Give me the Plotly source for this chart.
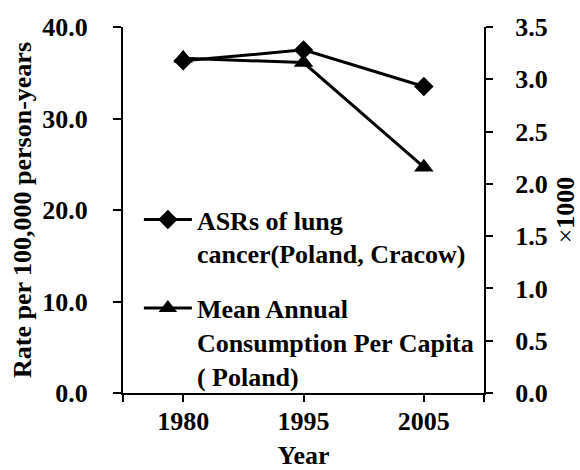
import plotly.graph_objects as go

# Observation years and series values
years = ["1980", "1995", "2005"]
asr_lung_cancer = [36.3, 37.5, 33.5]          # rate per 100,000 person-years (left axis)
consumption_per_capita = [3.2, 3.16, 2.16]   # x1000 (right axis)

asr_lines = ["ASRs of lung", "cancer(Poland, Cracow)"]
cons_lines = ["Mean Annual", "Consumption Per Capita", "( Poland)"]


def bold_lines(lines):
    return "<br>".join(f"<b>{s}</b>" for s in lines)


FONT = "Liberation Serif"
SIZE = 26
bold = dict(family=FONT, size=SIZE, color="black", weight="bold")
x_pos = list(range(len(years)))

fig = go.Figure()
fig.add_trace(go.Scatter(
    x=x_pos, y=asr_lung_cancer, name=bold_lines(asr_lines), legendgroup="a",
    mode="lines+markers",
    line=dict(color="black", width=3),
    marker=dict(symbol="diamond", size=15, color="black"),
    yaxis="y",
))
fig.add_trace(go.Scatter(
    x=x_pos, y=consumption_per_capita, name=bold_lines(cons_lines), legendgroup="b",
    mode="lines+markers",
    line=dict(color="black", width=3),
    marker=dict(symbol="triangle-up", size=17, color="black"),
    yaxis="y2",
))

axis_common = dict(
    showline=True, linecolor="black", linewidth=2,
    ticks="outside", tickwidth=2, tickcolor="black",
    showgrid=False, zeroline=False, tickfont=bold, automargin=False,
)

fig.update_layout(
    width=580, height=470,
    margin=dict(l=123, r=96, t=27, b=77),
    paper_bgcolor="white", plot_bgcolor="white",
    font=bold,
    showlegend=True,
    legend=dict(
        x=0.044, y=0.538, xanchor="left", yanchor="top",
        bgcolor="rgba(0,0,0,0)", valign="top",
        tracegroupgap=18, itemwidth=48,
        font=bold,
    ),
    xaxis=dict(
        range=[-0.5, 2.5],
        tickvals=[-0.5, 0, 1, 2, 2.5],
        ticktext=["", years[0], years[1], years[2], ""],
        ticklen=7, ticklabelstandoff=-3,
        title=dict(text="Year", standoff=12, font=bold),
        **axis_common,
    ),
    yaxis=dict(
        range=[0, 40], dtick=10, tickformat=".1f",
        ticklen=8, ticklabelstandoff=20,
        title=dict(text="Rate per 100,000 person-years", standoff=3, font=bold),
        **axis_common,
    ),
    yaxis2=dict(
        range=[0, 3.5], dtick=0.5, tickformat=".1f",
        overlaying="y", side="right",
        ticklen=7, ticklabelstandoff=17,
        title=dict(text="×<b>1000</b>", standoff=33,
                   font=dict(family=FONT, size=SIZE, color="black", weight="normal")),
        **axis_common,
    ),
)

fig.write_html("out.html")
